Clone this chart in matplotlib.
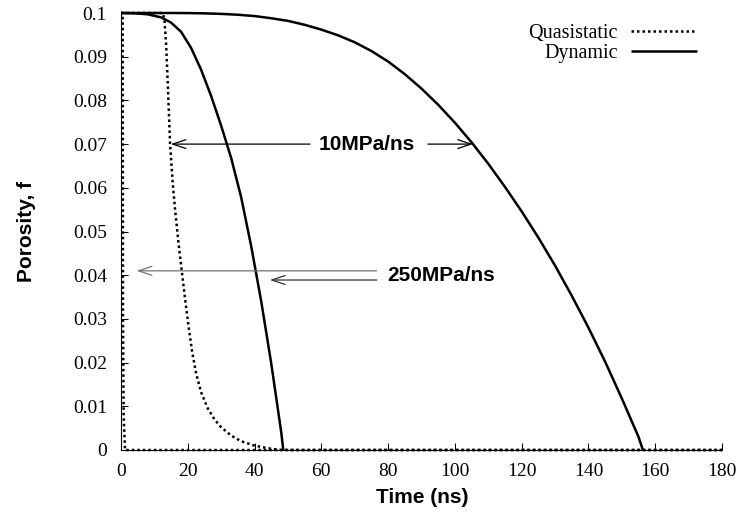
import matplotlib
matplotlib.use("Agg")
import matplotlib.pyplot as plt

# ---------------- data ----------------
# Quasistatic, 10 MPa/ns (dotted)
t_qs_10 = [0, 12.5, 13.0, 13.5, 14.0, 14.7, 15.5, 16.2, 17.2, 18.2, 19.2, 20.2,
           21.3, 22.5, 24, 26, 28, 30, 33, 36, 40, 44, 48, 180]
f_qs_10 = [0.1, 0.1, 0.0985, 0.093, 0.084, 0.070, 0.061, 0.055, 0.0475, 0.041,
           0.0345, 0.0285, 0.0225, 0.0175, 0.0132, 0.0095, 0.0070, 0.0052,
           0.0033, 0.0020, 0.0010, 0.0004, 0.0, 0.0]

# Quasistatic, 250 MPa/ns (dotted)
t_qs_250 = [0, 0.5, 0.55, 0.6, 0.8, 1.2, 180]
f_qs_250 = [0.1, 0.1, 0.07, 0.03, 0.008, 0.0, 0.0]

# Dynamic, 10 MPa/ns (solid)
t_dyn_10 = [0, 5, 10, 15, 20, 25, 30, 35, 40, 45, 50, 55, 60, 65, 70, 75, 80,
            85, 90, 95, 100, 105, 110, 115, 120, 125, 130, 135, 140, 145, 150,
            155, 156.3]
f_dyn_10 = [0.1, 0.1, 0.1, 0.1, 0.09998, 0.09992, 0.0998, 0.0996, 0.0993,
            0.0988, 0.0982, 0.0973, 0.0962, 0.0949, 0.0933, 0.0913, 0.0889,
            0.0860, 0.0827, 0.0790, 0.0749, 0.0704, 0.0655, 0.0602, 0.0546,
            0.0486, 0.0422, 0.0353, 0.0280, 0.0202, 0.0118, 0.0030, 0.0]

# Dynamic, 250 MPa/ns (solid)
t_dyn_250 = [0, 4, 8, 12, 15, 18, 21, 24, 27, 30, 33, 36, 39, 42, 45, 48, 48.6]
f_dyn_250 = [0.1, 0.09995, 0.0997, 0.0990, 0.0978, 0.0957, 0.0920, 0.0870,
             0.0810, 0.0742, 0.0668, 0.0578, 0.0466, 0.0340, 0.0198, 0.0040, 0.0]

x_ticks = [0, 20, 40, 60, 80, 100, 120, 140, 160, 180]
y_ticks = [0, 0.01, 0.02, 0.03, 0.04, 0.05, 0.06, 0.07, 0.08, 0.09, 0.1]
y_tick_labels = ["0", "0.01", "0.02", "0.03", "0.04", "0.05", "0.06",
                 "0.07", "0.08", "0.09", "0.1"]

series_labels = ["Quasistatic", "Dynamic"]
rate_labels = ["10MPa/ns", "250MPa/ns"]

serif = "Liberation Serif"
sans = "Liberation Sans"
plt.rcParams["font.family"] = [serif, "DejaVu Serif"]

# ---------------- figure ----------------
W, H = 741, 520
fig = plt.figure(figsize=(W / 100, H / 100), dpi=100)
ax = fig.add_axes([121 / W, 70 / H, 601 / W, 437 / H])

lw = 1.8
dot = (0, (1, 1.2))
l_qs, = ax.plot(t_qs_10, f_qs_10, color="black", lw=lw, linestyle=dot,
                dash_capstyle="butt", clip_on=False, label=series_labels[0])
ax.plot(t_qs_250, f_qs_250, color="black", lw=lw, linestyle=dot,
        dash_capstyle="butt", clip_on=False)
l_dyn, = ax.plot(t_dyn_10, f_dyn_10, color="black", lw=lw,
                 solid_capstyle="butt", solid_joinstyle="round", clip_on=False,
                 label=series_labels[1])
ax.plot(t_dyn_250, f_dyn_250, color="black", lw=lw, solid_capstyle="butt",
        solid_joinstyle="round", clip_on=False)

ax.set_xlim(0, 180)
ax.set_ylim(0, 0.1)

for s in ["top", "right"]:
    ax.spines[s].set_visible(False)
for s in ["left", "bottom"]:
    ax.spines[s].set_linewidth(0.8)

ax.set_xticks(x_ticks)
ax.set_xticklabels([str(v) for v in x_ticks])
ax.set_yticks(y_ticks)
ax.set_yticklabels(y_tick_labels)
ax.tick_params(axis="both", direction="in", length=5, width=0.75,
               labelsize=14)
ax.tick_params(axis="x", pad=9.5)
ax.tick_params(axis="y", pad=10)
for lab in ax.get_xticklabels() + ax.get_yticklabels():
    lab.set_fontfamily(serif)

ax.set_xlabel("Time (ns)", fontfamily=sans, fontweight="bold", fontsize=15)
ax.set_ylabel("Porosity, f", fontfamily=sans, fontweight="bold", fontsize=15)
ax.xaxis.set_label_coords(0.502, -0.087)
ax.yaxis.set_label_coords(-0.142, 0.5)

# legend
leg = ax.legend(handles=[l_qs, l_dyn], loc="upper right",
                bbox_to_anchor=(697 / W, 1 - 24 / H),
                bbox_transform=fig.transFigure, frameon=False,
                markerfirst=False, handlelength=3.3, handletextpad=0.65,
                labelspacing=0.05, borderpad=0, borderaxespad=0,
                prop={"family": serif, "size": 14.5})

# annotations
afont = dict(fontfamily=sans, fontweight="bold", fontsize=15)
ax.text(73.7, 0.0699, rate_labels[0], ha="center", va="center", **afont)
ax.text(96.0, 0.0400, rate_labels[1], ha="center", va="center", **afont)

astyle = "->,head_length=0.95,head_width=0.32"


def arrow(tail, tip, color="black"):
    ax.annotate("", xy=tip, xytext=tail,
                arrowprops=dict(arrowstyle=astyle, lw=0.9, color=color,
                                shrinkA=0, shrinkB=0, mutation_scale=10))


arrow((56.6, 0.070), (14.9, 0.070))
arrow((91.9, 0.070), (105.4, 0.070))
arrow((76.6, 0.0410), (4.7, 0.0410), color="0.45")
arrow((76.6, 0.0389), (44.6, 0.0389), color="0.2")

fig.savefig("out.png", dpi=100)
